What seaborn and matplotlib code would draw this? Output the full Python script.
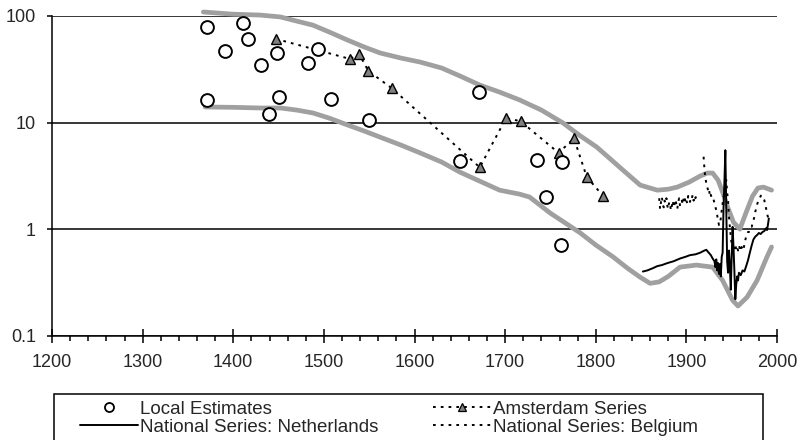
import matplotlib
matplotlib.use("Agg")
import matplotlib.pyplot as plt
import seaborn as sns
import pandas as pd
from matplotlib.lines import Line2D
from matplotlib.patches import Rectangle
from matplotlib.ticker import MultipleLocator, FixedLocator, FuncFormatter, NullLocator

# --- data --------------------------------------------------------------
local_years = [1371, 1371, 1391, 1411, 1416, 1431, 1439, 1448, 1450, 1483,
               1494, 1508, 1550, 1650, 1671, 1735, 1745, 1762, 1763]
local_vals = [79, 16.3, 47, 86, 61, 35, 12.0, 45, 17.4, 36,
              49, 16.6, 10.6, 4.4, 19.3, 4.5, 2.0, 0.71, 4.3]

ams_years = [1447, 1529, 1539, 1549, 1575, 1672, 1701, 1717, 1759, 1776, 1790, 1808]
ams_vals = [61, 39.5, 44, 30.5, 21, 3.8, 11, 10.3, 5.2, 7.1, 3.1, 2.05]

upper_years = [1367, 1400, 1430, 1452, 1470, 1488, 1506, 1526, 1545, 1562,
               1585, 1606, 1630, 1650, 1672, 1694, 1716, 1740, 1764, 1782,
               1801, 1815, 1830, 1849, 1868, 1880, 1890, 1903, 1915, 1923,
               1929, 1935, 1940, 1946, 1952, 1959, 1966, 1973, 1979, 1985,
               1994]
upper_vals = [109, 104, 102, 98, 89.6, 82, 70.7, 59.5, 51, 45,
              40.3, 37, 32.5, 27.4, 22.5, 19.3, 16.3, 13.1, 9.9, 7.6,
              5.9, 4.64, 3.58, 2.59, 2.32, 2.37, 2.48, 2.76, 3.14, 3.36,
              3.36, 2.88, 2.22, 1.57, 1.16, 1.0, 1.44, 2.04, 2.43, 2.48,
              2.32]

lower_years = [1369, 1400, 1430, 1452, 1470, 1488, 1506, 1526, 1545, 1562,
               1585, 1606, 1630, 1650, 1672, 1694, 1716, 1727, 1750, 1770,
               1783, 1800, 1819, 1835, 1849, 1860, 1870, 1880, 1893, 1911,
               1929, 1940, 1951, 1957, 1967, 1978, 1989, 1994]
lower_vals = [14.0, 13.9, 13.7, 13.7, 13.1, 12.3, 11.0, 9.5, 8.3, 7.3,
              6.15, 5.2, 4.26, 3.43, 2.82, 2.32, 2.13, 2.0, 1.41, 1.09,
              0.92, 0.71, 0.55, 0.43, 0.354, 0.31, 0.32, 0.36, 0.44, 0.46,
              0.44, 0.33, 0.215, 0.19, 0.23, 0.33, 0.55, 0.68]

nl_years = [1852, 1857, 1863, 1868, 1873, 1879, 1886, 1893, 1899, 1904,
            1910, 1915, 1920, 1922, 1924, 1927, 1929, 1931, 1932, 1933,
            1934, 1935, 1936, 1937, 1938, 1939, 1940, 1941, 1942, 1943,
            1944, 1945, 1946, 1947, 1948, 1949, 1950, 1951, 1952, 1953,
            1954, 1955, 1956, 1957, 1958, 1960, 1962, 1964, 1966, 1968,
            1970, 1972, 1974, 1976, 1978, 1980, 1982, 1984, 1986, 1988,
            1989, 1990, 1991]
nl_vals = [0.40, 0.41, 0.43, 0.45, 0.46, 0.48, 0.50, 0.53, 0.55, 0.57,
           0.58, 0.60, 0.63, 0.64, 0.61, 0.57, 0.53, 0.50, 0.44, 0.52,
           0.41, 0.48, 0.38, 0.47, 0.36, 0.55, 0.60, 1.6, 2.8, 5.5,
           1.6, 0.50, 0.39, 0.63, 0.45, 0.27, 0.55, 1.05, 0.68, 0.40,
           0.22, 0.30, 0.36, 0.33, 0.39, 0.37, 0.41, 0.40, 0.45, 0.51,
           0.60, 0.70, 0.80, 0.85, 0.88, 0.92, 0.90, 0.94, 0.96, 1.02,
           0.98, 1.10, 1.26]

# Belgium: annual, with a break during WWI
be_years_a = list(range(1870, 1913))
be_vals_a = [1.95, 1.55, 1.80, 2.00, 1.70, 1.60, 1.85, 1.75, 1.95, 1.65,
             1.55, 1.80, 1.70, 1.50, 1.65, 1.85, 1.60, 1.75, 1.90, 1.70,
             1.55, 1.80, 1.95, 1.65, 1.75, 1.85, 1.70, 1.95, 1.80, 2.00,
             1.85, 1.75, 2.05, 1.90, 1.80, 2.00, 1.95, 2.10, 1.85, 2.05,
             1.95, 2.10, 2.00]
be_years_b = list(range(1919, 1992))
be_vals_b = [4.78, 3.6, 3.0, 2.7, 2.5, 2.3, 2.4, 2.0, 2.1, 1.95,
             1.87, 1.9, 1.75, 1.62, 1.5, 1.35, 1.2, 1.09, 1.15, 1.26,
             1.5, 1.74, 2.0, 2.3, 2.6, 2.9, 2.2, 1.87, 1.3, 1.05,
             0.85, 0.72, 0.70, 0.68, 0.66, 0.72, 0.64, 0.68, 0.63, 0.70,
             0.66, 0.62, 0.68, 0.64, 0.64, 0.72, 0.79, 0.85, 0.88, 0.94,
             0.94, 1.0, 1.05, 1.05, 1.12, 1.21, 1.3, 1.45, 1.56, 1.7,
             1.8, 1.87, 1.95, 2.05, 2.08, 2.0, 1.95, 1.87, 1.7, 1.56,
             1.4, 1.3, 1.21]

be = pd.concat([
    pd.DataFrame({"year": be_years_a, "val": be_vals_a, "seg": 0}),
    pd.DataFrame({"year": be_years_b, "val": be_vals_b, "seg": 1}),
])

# --- figure -------------------------------------------------------------
sns.set_theme(style="ticks")
plt.rcParams["font.family"] = ["Liberation Sans", "DejaVu Sans"]

GREY = "#a0a0a0"
DOTS = (0, (1.4, 2.6))

fig = plt.figure(figsize=(8.02, 4.40), dpi=100)
ax = fig.add_axes([52 / 802, 1 - 335.7 / 440, 725 / 802, (335.7 - 16) / 440])
ax.set_yscale("log")

sns.lineplot(x=upper_years, y=upper_vals, ax=ax, color=GREY, lw=3.4,
             estimator=None, sort=False, clip_on=False, zorder=2)
sns.lineplot(x=lower_years, y=lower_vals, ax=ax, color=GREY, lw=3.4,
             estimator=None, sort=False, clip_on=False, zorder=2)

sns.lineplot(data=be, x="year", y="val", units="seg", estimator=None, ax=ax,
             color="black", lw=1.4, linestyle=DOTS, zorder=3)
sns.lineplot(x=nl_years, y=nl_vals, ax=ax, color="black", lw=1.4,
             estimator=None, sort=False, zorder=3)

sns.lineplot(x=ams_years, y=ams_vals, ax=ax, color="black", lw=1.4,
             linestyle=DOTS, estimator=None, sort=False, zorder=4,
             marker="^", markersize=7, markerfacecolor="#808080",
             markeredgecolor="black", markeredgewidth=1.0)

sns.scatterplot(x=local_years, y=local_vals, ax=ax, marker="o", s=85,
                color="white", edgecolor="black", linewidth=1.4, zorder=5)

ax.set_xlim(1200, 2000)
ax.set_ylim(0.1, 100)
ax.xaxis.set_major_locator(MultipleLocator(100))
ax.xaxis.set_minor_locator(MultipleLocator(20))
ax.yaxis.set_major_locator(FixedLocator([0.1, 1, 10, 100]))
ax.yaxis.set_minor_locator(NullLocator())
ax.yaxis.set_major_formatter(FuncFormatter(lambda v, p: f"{v:g}"))

ax.yaxis.grid(True, which="major", color="black", lw=1.1)
ax.set_axisbelow(True)

for side in ["top", "right"]:
    ax.spines[side].set_visible(False)
for side in ["left", "bottom"]:
    ax.spines[side].set_color("black")
    ax.spines[side].set_linewidth(1.1)

ax.tick_params(axis="x", which="major", direction="inout", length=10,
               width=1.1, pad=8, labelsize=13, color="black", bottom=True)
ax.tick_params(axis="x", which="minor", direction="out", length=3.6,
               width=1.1, color="black", bottom=True)
ax.tick_params(axis="y", which="major", direction="out", length=3.6,
               width=1.1, pad=8, labelsize=13, color="black", left=True)
ax.set_xlabel("")
ax.set_ylabel("")

# --- legend (two columns, framed box that runs off the bottom) ---------
h_local = Line2D([], [], ls="none", marker="o", ms=6.5, mfc="white",
                 mec="black", mew=1.3)
h_nl = Line2D([], [], color="black", lw=1.4)
h_ams = Line2D([], [], color="black", lw=1.4, ls=DOTS, marker="^", ms=6,
               mfc="#808080", mec="black", mew=0.9)
h_be = Line2D([], [], color="black", lw=1.4, ls=DOTS)

leg_kw = dict(loc="upper left", frameon=False, borderpad=0, borderaxespad=0,
              handlelength=3.1, handletextpad=0.1, labelspacing=0.05,
              fontsize=13.5)
leg1 = fig.legend([h_local, h_nl], ["Local Estimates", "National Series: Netherlands"],
                  bbox_to_anchor=(80 / 802, 1 - 400.5 / 440), **leg_kw)
leg2 = fig.legend([h_ams, h_be], ["Amsterdam Series", "National Series: Belgium"],
                  bbox_to_anchor=(433 / 802, 1 - 400.5 / 440), **leg_kw)

fig.add_artist(Rectangle((54 / 802, -0.1), (763 - 54) / 802, 0.1 + 1 - 394 / 440,
                         transform=fig.transFigure, fill=False,
                         edgecolor="black", lw=1.1))

fig.savefig("out.png", dpi=100)
